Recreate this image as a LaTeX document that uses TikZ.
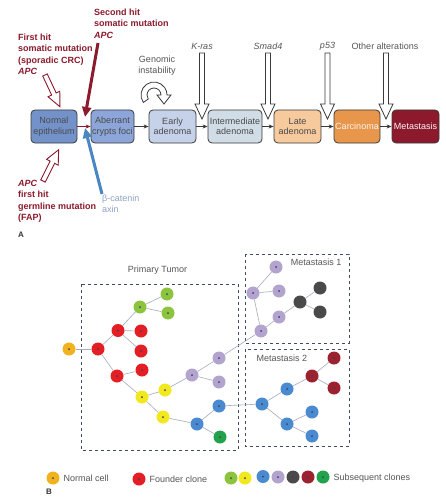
\documentclass[tikz,border=0pt]{standalone}
\usepackage{fontspec}
\setmainfont{Liberation Sans}
\usetikzlibrary{arrows.meta}
\definecolor{dred}{HTML}{8B1A2C}
\definecolor{txtgray}{HTML}{555555}
\definecolor{boxline}{HTML}{3A3A3A}
\definecolor{boxtxt}{HTML}{4A4A4A}
\definecolor{cNormal}{HTML}{7492CA}
\definecolor{cAberr}{HTML}{8CA6DA}
\definecolor{cEarly}{HTML}{C6D2EA}
\definecolor{cInter}{HTML}{D0DCE6}
\definecolor{cLate}{HTML}{F6CA9C}
\definecolor{cCarc}{HTML}{E8964C}
\definecolor{cMeta}{HTML}{8C1A2C}
\definecolor{arrblue}{HTML}{4A86C2}
\definecolor{catblue}{HTML}{8FA3C2}
\definecolor{dashc}{HTML}{3E4C6A}
\definecolor{edgec}{HTML}{A4ACBC}
\definecolor{dotc}{HTML}{3A4060}
\definecolor{kNormal}{HTML}{F2B21E}
\definecolor{kRed}{HTML}{E41E24}
\definecolor{kGreen}{HTML}{8CC43E}
\definecolor{kYellow}{HTML}{F2E81E}
\definecolor{kPurple}{HTML}{B2A4CE}
\definecolor{kBlue}{HTML}{4A8AD0}
\definecolor{kBlack}{HTML}{4A4A4A}
\definecolor{kDRed}{HTML}{9C2230}
\definecolor{kDGreen}{HTML}{22A24A}
\begin{document}
\begin{tikzpicture}[x=1pt,y=-1pt,
  every node/.style={font=\fontsize{9pt}{10.5pt}\selectfont, text=txtgray},
  stage/.style={draw=boxline, line width=0.8pt, rounded corners=4pt, minimum height=33pt, align=center, inner sep=1pt, text=boxtxt},
  redlbl/.style={font=\fontsize{9pt}{11.5pt}\selectfont\bfseries, text=dred, align=left, anchor=north west, inner sep=0pt},
  smallarr/.style={-{Stealth[length=5pt,width=4pt]}, line width=0.7pt, boxline},
  hollow/.style={draw=boxline, fill=white, line width=0.8pt, line join=miter},
  redhollow/.style={draw=dred, fill=white, line width=0.9pt, line join=miter},
  cell/.style={circle, minimum size=13pt, inner sep=0pt, path picture={\fill[dotc] (path picture bounding box.center) circle (1pt);}},
  link/.style={draw=edgec, line width=0.6pt},
  zone/.style={draw=dashc, dashed, line width=0.7pt}
]
\useasboundingbox[fill=white] (0,0) rectangle (446,500);

% ---------------- Part A ----------------
\node[stage, fill=cNormal, minimum width=46pt] (s1) at (54,126.5) {Normal\\epithelium};
\node[stage, fill=cAberr, minimum width=43pt] (s2) at (112.5,126.5) {Aberrant\\crypts foci};
\node[stage, fill=cEarly, minimum width=47pt] (s3) at (172.5,126.5) {Early\\adenoma};
\node[stage, fill=cInter, minimum width=54pt] (s4) at (235,126.5) {Intermediate\\adenoma};
\node[stage, fill=cLate, minimum width=47pt] (s5) at (297.5,126.5) {Late\\adenoma};
\node[stage, fill=cCarc, minimum width=46pt, text=white!85!cLate] (s6) at (357,126.5) {Carcinoma};
\node[stage, fill=cMeta, minimum width=47pt, text=white!85!pink] (s7) at (415.5,126.5) {Metastasis};

\draw[smallarr, dred] (s1) -- (s2);
\draw[smallarr] (s2) -- (s3);
\draw[smallarr] (s3) -- (s4);
\draw[smallarr] (s4) -- (s5);
\draw[smallarr] (s5) -- (s6);
\draw[smallarr] (s6) -- (s7);

% vertical hollow arrows
\foreach \c in {202,268,327.5,386}{
  \draw[hollow] ({\c-2.5},53) -- ({\c-2.5},104) -- ({\c-7},104) -- (\c,119) -- ({\c+7},104) -- ({\c+2.5},104) -- ({\c+2.5},53) -- cycle;
}
\node[font=\fontsize{9pt}{10.5pt}\selectfont\itshape] (lk) at (202,46.5) {K-ras};
\node[font=\fontsize{9pt}{10.5pt}\selectfont\itshape] (ls) at (268,46) {Smad4};
\node[font=\fontsize{9pt}{10.5pt}\selectfont\itshape] (lp) at (327.5,46) {p53};
\node (lo) at (385,46) {Other alterations};

% genomic instability loop
\node[align=center, font=\fontsize{9pt}{11pt}\selectfont] (gi) at (157,65.5) {Genomic\\instability};
\begin{scope}[shift={(154,95)}, yscale=-1]
  \draw[hollow] (215:13) arc[start angle=215, end angle=0, radius=13] -- (17,0) -- (10,-9) -- (3,0) -- (7,0) arc[start angle=0, end angle=215, radius=7] -- cycle;
\end{scope}

% first hit
\node[redlbl] (fh) at (18,33.7) {First hit\\somatic mutation\\(sporadic CRC)\\\itshape APC};
\begin{scope}[shift={(45,75)}, rotate=-64.9]
  \draw[redhollow] (0,-2.5) -- (21,-2.5) -- (21,-6.5) -- (35,0) -- (21,6.5) -- (21,2.5) -- (0,2.5) -- cycle;
\end{scope}
% germline
\node[redlbl] (gl) at (18,179.7) {\itshape APC\\first hit\\germline mutation\\(FAP)};
\begin{scope}[shift={(43,181)}, rotate=63.4]
  \draw[redhollow] (0,-2.5) -- (21,-2.5) -- (21,-6.5) -- (35,0) -- (21,6.5) -- (21,2.5) -- (0,2.5) -- cycle;
\end{scope}
% second hit
\node[redlbl] (sh) at (94,8.7) {Second hit\\somatic mutation\\\itshape APC};
\coordinate (shs) at (98,43);
\coordinate (she) at (85,117);
\draw[dred, line width=3pt, -{Triangle[length=10pt,width=9pt]}] (shs) -- (she);
% beta-catenin
\node[align=left, anchor=north west, inner sep=0pt, text=catblue, font=\fontsize{9pt}{11pt}\selectfont] (bc) at (102,195) {β-catenin\\axin};
\coordinate (bcs) at (102,194);
\coordinate (bce) at (85,128);
\draw[arrblue, line width=3pt, -{Triangle[length=10pt,width=9pt]}] (bcs) -- (bce);

\node[font=\fontsize{8pt}{10pt}\selectfont\bfseries, text=black!80] (la) at (21,235) {A};

% ---------------- Part B ----------------
\draw[zone] (81,284) rectangle (238,450);
\draw[zone] (245,254) rectangle (349,343);
\draw[zone] (245,349) rectangle (349,446);
\node (tp) at (157.5,270) {Primary Tumor};
\node[anchor=east] (t1) at (345,262) {Metastasis 1};
\node[anchor=west] (t2) at (253,358.5) {Metastasis 2};

% primary tumor nodes
\node[cell, fill=kNormal] (n0) at (69,349) {};
\node[cell, fill=kRed] (r1) at (98,349) {};
\node[cell, fill=kRed] (r2) at (118,330.5) {};
\node[cell, fill=kRed] (r3) at (141,331) {};
\node[cell, fill=kRed] (r4) at (141,351) {};
\node[cell, fill=kRed] (r5) at (117,376) {};
\node[cell, fill=kRed] (r6) at (142,370) {};
\node[cell, fill=kGreen] (g1) at (140,307) {};
\node[cell, fill=kGreen] (g2) at (167,294) {};
\node[cell, fill=kGreen] (g3) at (168,313) {};
\node[cell, fill=kYellow] (y1) at (142,397) {};
\node[cell, fill=kYellow] (y2) at (165,390) {};
\node[cell, fill=kYellow] (y3) at (163,417) {};
\node[cell, fill=kPurple] (p1) at (192,375) {};
\node[cell, fill=kPurple] (p2) at (219,358) {};
\node[cell, fill=kPurple] (p3) at (219,382) {};
\node[cell, fill=kBlue] (b1) at (219,406) {};
\node[cell, fill=kBlue] (b2) at (197,424) {};
\node[cell, fill=kDGreen] (dg) at (220,437) {};

% metastasis 1 nodes
\node[cell, fill=kPurple] (ma1) at (261,331) {};
\node[cell, fill=kPurple] (ma2) at (253,293) {};
\node[cell, fill=kPurple] (ma3) at (276,267) {};
\node[cell, fill=kPurple] (ma4) at (279,291) {};
\node[cell, fill=kPurple] (ma5) at (279,317) {};
\node[cell, fill=kBlack] (k1) at (300,302) {};
\node[cell, fill=kBlack] (k2) at (320,288) {};
\node[cell, fill=kBlack] (k3) at (320,312) {};

% metastasis 2 nodes
\node[cell, fill=kBlue] (mb1) at (262,404) {};
\node[cell, fill=kBlue] (mb2) at (287,389) {};
\node[cell, fill=kBlue] (mb3) at (312,412) {};
\node[cell, fill=kBlue] (mb4) at (287,424) {};
\node[cell, fill=kBlue] (mb5) at (312,436) {};
\node[cell, fill=kDRed] (d1) at (312,376) {};
\node[cell, fill=kDRed] (d2) at (334,358) {};
\node[cell, fill=kDRed] (d3) at (334,388) {};

% edges
\foreach \a/\b in {n0/r1, r1/r2, r1/r5, r2/r3, r2/r4, r2/g1, g1/g2, g1/g3, r5/r6, r5/y1, y1/y2, y1/y3, y2/p1, p1/p2, p1/p3, p2/ma1, y3/b2, b2/b1, b2/dg, b1/mb1,
  ma1/ma2, ma2/ma3, ma2/ma4, ma1/ma5, ma5/k1, k1/k2, k1/k3,
  mb1/mb2, mb2/d1, d1/d2, d1/d3, mb1/mb4, mb4/mb3, mb4/mb5}
  \draw[link] (\a) -- (\b);

% legend
\node[cell, fill=kNormal] (l0) at (53,478) {};
\node[anchor=west] (lt0) at (60,478.5) {Normal cell};
\node[cell, fill=kRed] (l1) at (139,479) {};
\node[anchor=west] (lt1) at (146,479) {Founder clone};
\node[cell, fill=kGreen] (l2) at (231,478) {};
\node[cell, fill=kYellow] (l3) at (245,478) {};
\node[cell, fill=kBlue] (l4) at (263,476.5) {};
\node[cell, fill=kPurple] (l5) at (278,477) {};
\node[cell, fill=kBlack] (l6) at (293,477) {};
\node[cell, fill=kDRed] (l7) at (308,477) {};
\node[cell, fill=kDGreen] (l8) at (323,477) {};
\node[anchor=west] (lt2) at (330,478) {Subsequent clones};
\node[font=\fontsize{8pt}{10pt}\selectfont\bfseries, text=black!80] (lb) at (49,492) {B};
\end{tikzpicture}
\end{document}
